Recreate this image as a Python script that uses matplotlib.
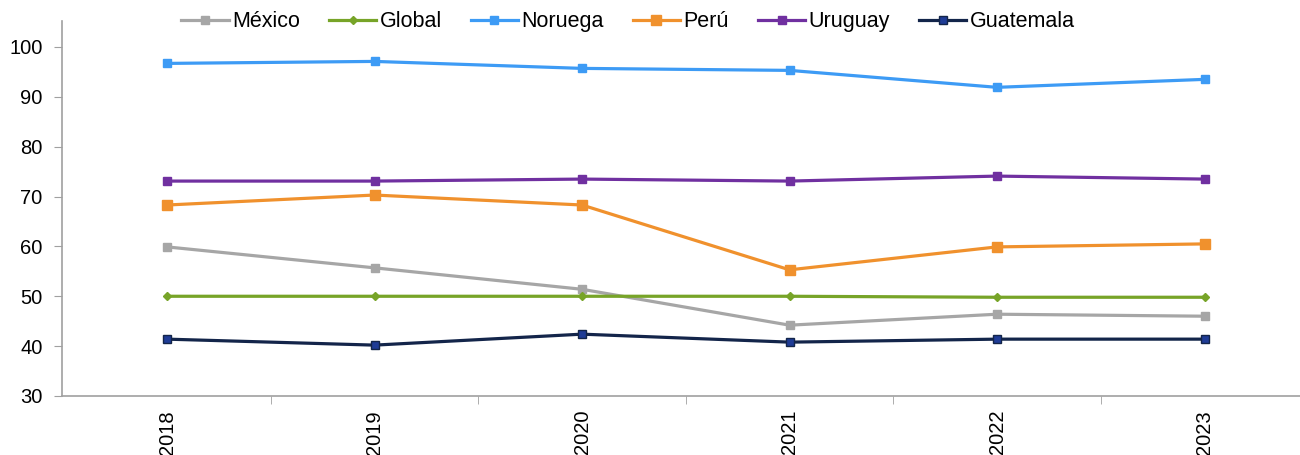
import matplotlib.pyplot as plt
import numpy as np

plt.rcParams['font.family'] = ['Liberation Sans', 'DejaVu Sans']

years = ['2018', '2019', '2020', '2021', '2022', '2023']
mexico = [59.9, 55.7, 51.4, 44.2, 46.4, 46.0]
global_ = [50.0, 50.0, 50.0, 50.0, 49.8, 49.8]
noruega = [96.7, 97.1, 95.7, 95.3, 91.9, 93.5]
peru = [68.3, 70.3, 68.3, 55.3, 59.9, 60.5]
uruguay = [73.1, 73.1, 73.5, 73.1, 74.1, 73.5]
guatemala = [41.4, 40.2, 42.4, 40.8, 41.4, 41.4]

fig = plt.figure(figsize=(13, 4.55), dpi=100)
ax = fig.add_axes([0.0477, 0.1297, 0.9523, 0.8241])
x = np.arange(len(years))

lw = 2.3
ax.plot(x, mexico, color='#A6A6A6', lw=lw, marker='s', ms=6, label='México')
ax.plot(x, global_, color='#77A428', lw=lw, marker='D', ms=4, label='Global')
ax.plot(x, noruega, color='#3D9BF5', lw=lw, marker='s', ms=6, label='Noruega')
ax.plot(x, peru, color='#F0912D', lw=lw, marker='s', ms=7, label='Perú')
ax.plot(x, uruguay, color='#7030A0', lw=lw, marker='s', ms=6, label='Uruguay')
ax.plot(x, guatemala, color='#13254A', lw=lw, marker='s', ms=6,
        mfc='#1F3C96', mec='#13254A', label='Guatemala')

ax.set_xlim(-0.506, 5.46)
ax.set_ylim(30, 105.2)
ax.set_yticks(range(30, 101, 10))
ax.set_xticks(x)
ax.set_xticklabels(years, rotation=90, fontsize=14.5)
ax.set_xticks(np.arange(0.5, 5.5, 1), minor=True)
ax.tick_params(axis='x', which='major', length=0, pad=10)
ax.tick_params(axis='x', which='minor', length=6, color='#A0A0A0', direction='out')
ax.tick_params(axis='y', length=6, color='#A0A0A0', labelsize=14.5, pad=8)

for s in ['top', 'right']:
    ax.spines[s].set_visible(False)
for s in ['left', 'bottom']:
    ax.spines[s].set_color('#A0A0A0')
    ax.spines[s].set_linewidth(1.2)

fig.legend(loc='center', bbox_to_anchor=(0.483, 0.952), ncol=6, frameon=False,
           fontsize=15.5, handlelength=2.2, handletextpad=0.15, columnspacing=1.35)

fig.savefig('out.png', dpi=100)
